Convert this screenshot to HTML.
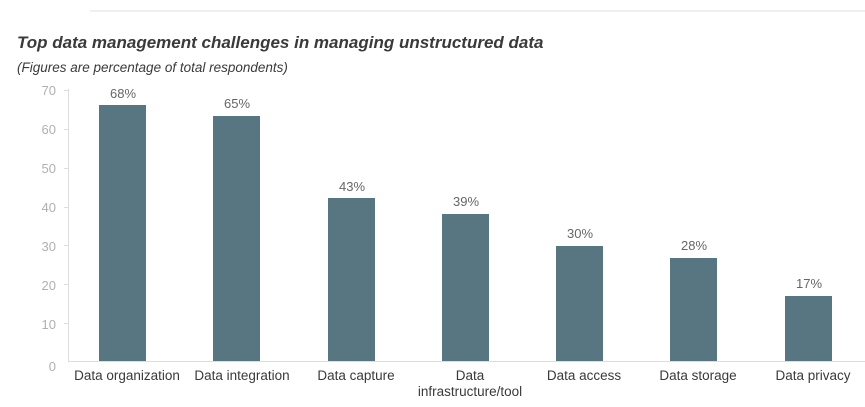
<!DOCTYPE html>
<html><head><meta charset="utf-8"><style>
body{margin:0;background:#fff;width:865px;height:402px;overflow:hidden;font-family:"Liberation Sans",sans-serif}
</style></head><body>
<svg width="865" height="402" xmlns="http://www.w3.org/2000/svg" font-family="Liberation Sans, sans-serif">
<line x1="90" y1="11" x2="865" y2="11" stroke="#f0f0f0" stroke-width="2"/>
<text x="17" y="48" font-size="17" font-weight="bold" font-style="italic" fill="#3a3a3a">Top data management challenges in managing unstructured data</text>
<text x="17" y="72" font-size="13.5" font-style="italic" fill="#3a3a3a">(Figures are percentage of total respondents)</text>
<g font-size="13" fill="#b0b0b0" text-anchor="end">
<text x="56" y="95">70</text><text x="56" y="134">60</text><text x="56" y="173">50</text><text x="56" y="212">40</text><text x="56" y="251">30</text><text x="56" y="290">20</text><text x="56" y="329">10</text><text x="56" y="371">0</text>
</g>
<line x1="68.5" y1="89" x2="68.5" y2="361" stroke="#ddd"/>
<line x1="68" y1="361.5" x2="865" y2="361.5" stroke="#ddd"/>
<g stroke="#ddd">
<line x1="64" y1="90.5" x2="68" y2="90.5"/><line x1="64" y1="129.5" x2="68" y2="129.5"/><line x1="64" y1="168.5" x2="68" y2="168.5"/><line x1="64" y1="207.5" x2="68" y2="207.5"/><line x1="64" y1="245.5" x2="68" y2="245.5"/><line x1="64" y1="284.5" x2="68" y2="284.5"/><line x1="64" y1="323.5" x2="68" y2="323.5"/>
</g>
<g fill="#587682">
<rect x="99" y="105" width="47" height="256"/>
<rect x="213" y="116" width="47" height="245"/>
<rect x="328" y="198" width="47" height="163"/>
<rect x="442" y="214" width="47" height="147"/>
<rect x="556" y="246" width="47" height="115"/>
<rect x="670" y="258" width="47" height="103"/>
<rect x="785" y="296" width="47" height="65"/>
</g>
<g font-size="13" fill="#666" text-anchor="middle">
<text x="123" y="98">68%</text><text x="237" y="108">65%</text><text x="352" y="191">43%</text><text x="466" y="206">39%</text><text x="580" y="238">30%</text><text x="694" y="250">28%</text><text x="809" y="288">17%</text>
</g>
<g font-size="13.5" fill="#3a3a3a" text-anchor="middle">
<text x="127" y="380">Data organization</text><text x="242" y="380">Data integration</text><text x="356" y="380">Data capture</text><text x="470" y="380">Data</text><text x="470" y="396">infrastructure/tool</text><text x="584" y="380">Data access</text><text x="698" y="380">Data storage</text><text x="813" y="380">Data privacy</text>
</g>
</svg>
</body></html>
